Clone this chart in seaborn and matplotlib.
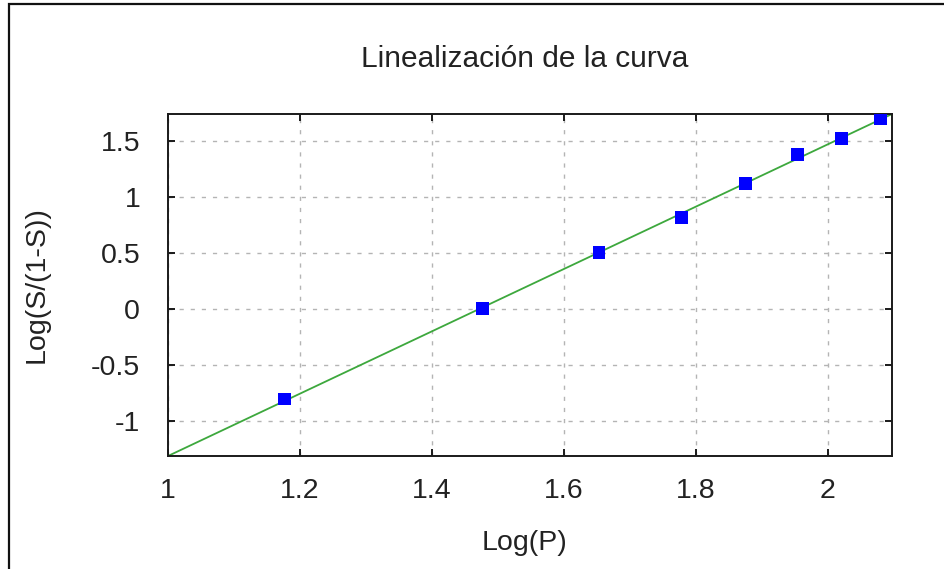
import matplotlib
matplotlib.use("Agg")
import matplotlib.pyplot as plt
from matplotlib.patches import Rectangle
import numpy as np
import seaborn as sns

# Log(P) and Log(S/(1-S))
log_p = [1.176, 1.477, 1.653, 1.778, 1.875, 1.954, 2.021, 2.079]
log_s = [-0.805, 0.0, 0.5, 0.815, 1.12, 1.38, 1.52, 1.70]

x_range = [1.0, 2.097]
x_ticks = [1, 1.2, 1.4, 1.6, 1.8, 2]
x_tick_labels = ["1", "1.2", "1.4", "1.6", "1.8", "2"]
y_ticks = [-1, -0.5, 0, 0.5, 1, 1.5]
y_tick_labels = ["-1", "-0.5", "0", "0.5", "1", "1.5"]


def main():
    sns.set_theme()
    sns.set_style("ticks")
    plt.rcParams["font.family"] = ["Liberation Sans", "DejaVu Sans"]

    fig = plt.figure(figsize=(9.44, 5.69), dpi=100)
    ax = fig.add_axes([168 / 944, 113 / 569, 724 / 944, 342 / 569])

    # straight-line fit through the points, evaluated at the x limits
    slope, intercept = np.polyfit(log_p, log_s, 1)
    fit_x = np.array(x_range)
    fit_y = intercept + slope * fit_x

    ax.grid(True, color="#b4b4b4", linestyle=(0, (3, 5)), linewidth=1.0)
    ax.set_axisbelow(True)

    sns.lineplot(x=fit_x, y=fit_y, ax=ax, color="#3da83d", linewidth=1.3, zorder=2)
    sns.scatterplot(x=log_p, y=log_s, ax=ax, marker="s", s=85, color="#0000ff",
                    edgecolor="none", zorder=3)

    ax.set_xlim(*x_range)
    ax.set_ylim(fit_y[0], fit_y[1])
    ax.set_xticks(x_ticks)
    ax.set_xticklabels(x_tick_labels)
    ax.set_yticks(y_ticks)
    ax.set_yticklabels(y_tick_labels)

    txt = "#222222"
    for sp in ax.spines.values():
        sp.set_visible(True)
        sp.set_color("#1a1a1a")
        sp.set_linewidth(1.4)
    ax.tick_params(direction="in", length=5, width=1.4, color="#1a1a1a",
                   top=True, right=True, labelsize=20.5, labelcolor=txt)
    ax.tick_params(axis="x", pad=16)
    ax.tick_params(axis="y", pad=20)

    ax.set_title("Linealización de la curva", fontsize=21.5, color=txt,
                 pad=34, x=0.493)
    ax.set_xlabel("Log(P)", fontsize=20.5, color=txt)
    ax.set_ylabel("Log(S/(1-S))", fontsize=20.5, color=txt)
    ax.xaxis.set_label_coords(0.493, -0.215)
    ax.yaxis.set_label_coords(-0.163, 0.5)

    # outer frame of the original image (only left and top edges visible)
    fig.patches.append(Rectangle((8.5 / 944, -0.2), 1.2, 1.2 + (569 - 4.5) / 569 - 1.0,
                                 transform=fig.transFigure, fill=False,
                                 edgecolor="#111111", linewidth=1.6))

    fig.savefig("out.png", dpi=100)


if __name__ == "__main__":
    main()
